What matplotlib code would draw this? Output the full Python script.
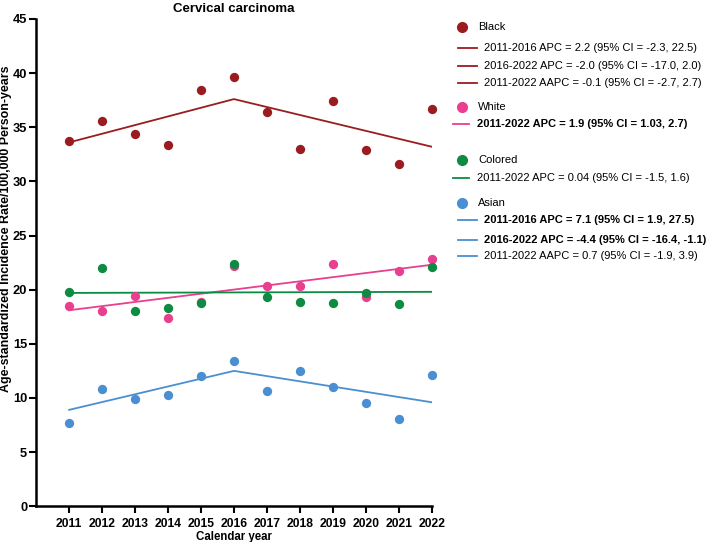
import matplotlib
matplotlib.use("Agg")
import matplotlib.pyplot as plt
from matplotlib.lines import Line2D

plt.rcParams["font.family"] = ["Liberation Sans", "DejaVu Sans"]

years = list(range(2011, 2023))

black = [33.7, 35.6, 34.4, 33.4, 38.4, 39.6, 36.4, 33.0, 37.4, 32.9, 31.6, 36.7]
white = [18.5, 18.0, 19.4, 17.4, 18.9, 22.2, 20.3, 20.3, 22.4, 19.3, 21.7, 22.8]
colored = [19.8, 22.0, 18.0, 18.3, 18.8, 22.4, 19.3, 18.9, 18.8, 19.7, 18.7, 22.1]
asian = [7.7, 10.8, 9.9, 10.3, 12.0, 13.4, 10.6, 12.5, 11.0, 9.5, 8.1, 12.1]

# joinpoint fits (knots + values)
black_fit_x = [2011, 2016, 2022]
black_fit_y = [33.6, 37.6, 33.2]
white_fit_x = [2011, 2022]
white_fit_y = [18.1, 22.3]
colored_fit_x = [2011, 2022]
colored_fit_y = [19.7, 19.8]
asian_fit_x = [2011, 2016, 2022]
asian_fit_y = [8.9, 12.5, 9.6]

c_black = "#9b1c20"
c_white = "#e8408e"
c_colored = "#0d8b43"
c_asian = "#4a8fd1"

fig = plt.figure(figsize=(7.09, 5.42), dpi=100)
ax = fig.add_axes([0.051, 0.066, 0.558, 0.899])

series = [
    (black, black_fit_x, black_fit_y, c_black),
    (white, white_fit_x, white_fit_y, c_white),
    (colored, colored_fit_x, colored_fit_y, c_colored),
    (asian, asian_fit_x, asian_fit_y, c_asian),
]
for vals, fx, fy, col in series:
    ax.plot(fx, fy, color=col, lw=1.3, zorder=2)
    ax.scatter(years, vals, s=45, color=col, zorder=3, clip_on=False, linewidths=0)

ax.set_xlim(2010, 2022)
ax.set_ylim(0, 45)
ax.set_xticks(years)
ax.set_yticks(range(0, 46, 5))
for s in ["top", "right"]:
    ax.spines[s].set_visible(False)
for s in ["left", "bottom"]:
    ax.spines[s].set_linewidth(1.8)
ax.tick_params(width=1.5, length=5)
ax.tick_params(axis="x", labelsize=8.7)
ax.tick_params(axis="y", labelsize=9.3, pad=1.5)
for lab in ax.get_xticklabels() + ax.get_yticklabels():
    lab.set_fontweight("bold")

ax.set_title("Cervical carcinoma", fontsize=9.5, fontweight="bold", pad=5)
ax.set_xlabel("Calendar year", fontsize=8.3, fontweight="bold", labelpad=1)
ax.set_ylabel("Age-standardized Incidence Rate/100,000 Person-years",
              fontsize=8.9, fontweight="bold")
ax.yaxis.set_label_coords(-0.061, 0.569)

# legend drawn by hand (irregular spacing as in the original)
W, H = 709, 542
legend_rows = [
    ("dot", c_black, 27, "Black", "normal"),
    ("line", c_black, 48, "2011-2016 APC = 2.2 (95% CI = -2.3, 22.5)", "normal"),
    ("line", c_black, 66, "2016-2022 APC = -2.0 (95% CI = -17.0, 2.0)", "normal"),
    ("line", c_black, 83, "2011-2022 AAPC = -0.1 (95% CI = -2.7, 2.7)", "normal"),
    ("dot", c_white, 107, "White", "normal"),
    ("lineb", c_white, 124, "2011-2022 APC = 1.9 (95% CI = 1.03, 2.7)", "bold"),
    ("dot", c_colored, 160, "Colored", "normal"),
    ("lineb", c_colored, 178, "2011-2022 APC = 0.04 (95% CI = -1.5, 1.6)", "normal"),
    ("dot", c_asian, 203, "Asian", "normal"),
    ("line", c_asian, 220, "2011-2016 APC = 7.1 (95% CI = 1.9, 27.5)", "bold"),
    ("line", c_asian, 240, "2016-2022 APC = -4.4 (95% CI = -16.4, -1.1)", "bold"),
    ("line", c_asian, 256, "2011-2022 AAPC = 0.7 (95% CI = -1.9, 3.9)", "normal"),
]
for kind, col, ypx, txt, wt in legend_rows:
    yf = 1 - ypx / H
    if kind == "dot":
        fig.add_artist(Line2D([462 / W], [yf], marker="o", ms=7, color=col,
                              mec=col, ls="none"))
        x_txt = 478
    elif kind == "line":
        fig.add_artist(Line2D([458 / W, 477 / W], [yf, yf], color=col, lw=1.3))
        x_txt = 484
    else:
        fig.add_artist(Line2D([453 / W, 469 / W], [yf, yf], color=col, lw=1.3))
        x_txt = 477
    fig.text(x_txt / W, yf, txt, fontsize=8, fontweight=wt, va="center", ha="left")

fig.savefig("out.png", dpi=100)
